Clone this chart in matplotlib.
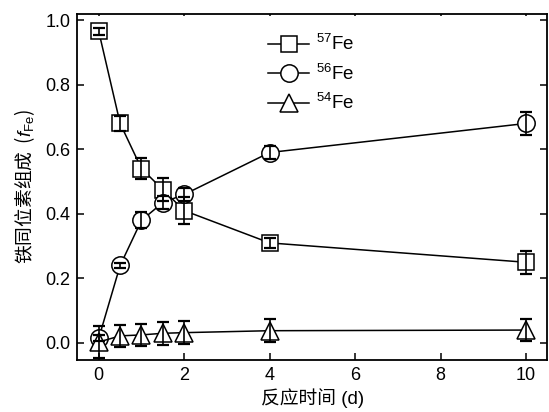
import numpy as np
import matplotlib
matplotlib.use('Agg')
import matplotlib.pyplot as plt

plt.rcParams['font.family'] = ['Liberation Sans', 'Noto Sans CJK SC', 'DejaVu Sans']
plt.rcParams['mathtext.fontset'] = 'custom'
plt.rcParams['mathtext.rm'] = 'Liberation Sans'
plt.rcParams['mathtext.it'] = 'Liberation Sans:italic'

# reaction time (d)
t = [0, 0.5, 1, 1.5, 2, 4, 10]

fe57 = [0.965, 0.68, 0.54, 0.475, 0.41, 0.31, 0.25]
fe57_err = [0.012, 0.022, 0.032, 0.035, 0.042, 0.015, 0.035]
fe56 = [0.015, 0.24, 0.38, 0.435, 0.46, 0.59, 0.68]
fe56_err = [0.01, 0.008, 0.025, 0.02, 0.02, 0.02, 0.035]
fe54 = [0.003, 0.022, 0.025, 0.03, 0.032, 0.038, 0.04]
fe54_err = [0.05, 0.035, 0.035, 0.035, 0.035, 0.035, 0.035]

fig = plt.figure(figsize=(5.49, 4.12), dpi=100)
ax = fig.add_axes([0.141, 0.126, 0.856, 0.84])

series = [
    (fe57, fe57_err, 's', 11, '$^{57}$Fe'),
    (fe56, fe56_err, 'o', 12.5, '$^{56}$Fe'),
    (fe54, fe54_err, '^', 13, '$^{54}$Fe'),
]
for y, err, m, ms, lab in series:
    ax.plot(t, y, color='black', lw=1.1, marker=m, ms=ms, mfc='white',
            mec='black', mew=1.1, label=lab, zorder=2)
    ax.errorbar(t, y, yerr=err, fmt='none', ecolor='black', elinewidth=1.2,
                capsize=4, capthick=1.6, zorder=3)

ax.set_xlim(-0.5, 10.5)
ax.set_ylim(-0.053, 1.019)
ax.set_xticks([0, 2, 4, 6, 8, 10])
ax.set_yticks([0.0, 0.2, 0.4, 0.6, 0.8, 1.0])
ax.set_yticklabels(['0.0', '0.2', '0.4', '0.6', '0.8', '1.0'])
ax.tick_params(direction='in', length=5, width=1.1, labelsize=13,
               right=True, pad=5)
ax.tick_params(axis='x', top=True)
for tk in ax.xaxis.get_major_ticks():
    tk.tick2line.set_markersize(1.5)
    tk.tick2line.set_color('#888888')
for s in ax.spines.values():
    s.set_linewidth(1.3)

ax.set_xlabel('反应时间 (d)', fontsize=13.5, labelpad=3)
ax.set_ylabel('铁同位素组成  ($f_{\\mathrm{Fe}}$)', fontsize=13.5, labelpad=6,
              fontfamily='Noto Sans CJK SC')

ax.legend(loc='upper left', bbox_to_anchor=(0.37, 0.99), frameon=False,
          fontsize=13.5, handlelength=2.2, labelspacing=0.5, handletextpad=0.35)

fig.savefig('out.png', dpi=100)
